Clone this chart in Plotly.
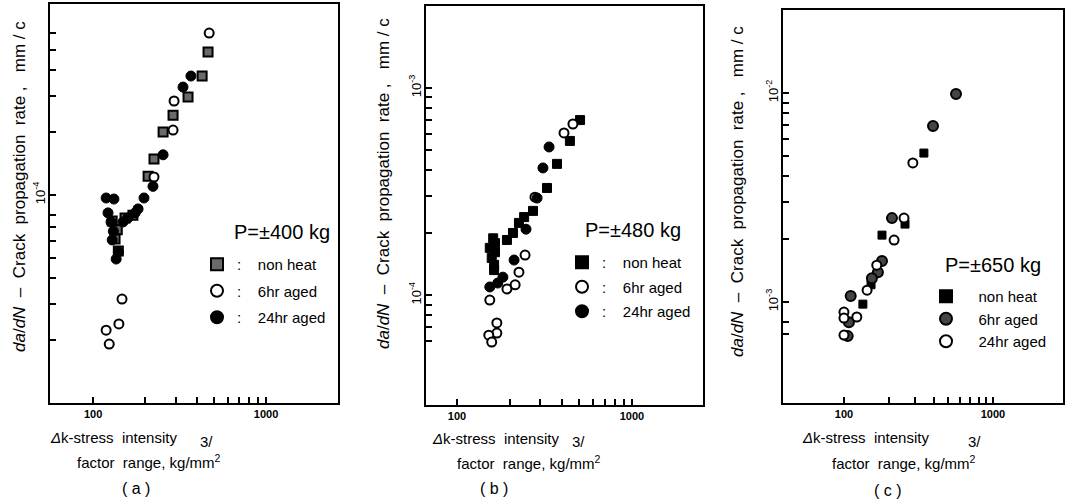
import plotly.graph_objects as go

# ---------------- data ----------------
# panel (a)  P = ±400 kg
a_nonheat_x = [462, 427, 354, 290, 254, 225, 208, 170, 153, 129, 138, 134, 140]
a_nonheat_y = [4.87e-4, 3.73e-4, 2.96e-4, 2.42e-4, 2.01e-4, 1.49e-4, 1.23e-4,
               0.80e-4, 0.775e-4, 0.75e-4, 0.68e-4, 0.614e-4, 0.538e-4]
a_6hr_x = [469, 294, 290, 225, 147, 141, 119, 124]
a_6hr_y = [6.0e-4, 2.83e-4, 2.05e-4, 1.22e-4, 0.316e-4, 0.24e-4, 0.224e-4, 0.192e-4]
a_24hr_x = [368, 331, 254, 222, 197, 182, 175, 159, 149, 119, 132, 122, 127, 131, 129, 140, 136]
a_24hr_y = [3.73e-4, 3.30e-4, 1.56e-4, 1.10e-4, 0.967e-4, 0.857e-4, 0.82e-4, 0.775e-4,
            0.742e-4, 0.967e-4, 0.956e-4, 0.82e-4, 0.742e-4, 0.67e-4, 0.608e-4,
            0.532e-4, 0.492e-4]

# panel (b)  P = ±480 kg
b_nonheat_x = [505, 442, 373, 327, 272, 242, 226, 209, 193, 161, 165, 154, 165, 158, 163, 163]
b_nonheat_y = [0.70e-3, 0.555e-3, 0.43e-3, 0.329e-3, 0.255e-3, 0.238e-3, 0.223e-3,
               0.1995e-3, 0.1845e-3, 0.188e-3, 0.178e-3, 0.169e-3, 0.161e-3,
               0.151e-3, 0.140e-3, 0.132e-3]
b_6hr_x = [460, 409, 279, 245, 226, 215, 193, 154, 169, 169, 152, 158]
b_6hr_y = [0.67e-3, 0.607e-3, 0.297e-3, 0.156e-3, 0.129e-3, 0.112e-3, 0.107e-3,
           0.0946e-3, 0.0733e-3, 0.0655e-3, 0.064e-3, 0.0593e-3]
b_24hr_x = [336, 310, 287, 248, 212, 183, 171, 154]
b_24hr_y = [0.519e-3, 0.411e-3, 0.294e-3, 0.208e-3, 0.1476e-3, 0.122e-3, 0.1143e-3, 0.1094e-3]

# panel (c)  P = ±650 kg
c_nonheat_x = [344, 257, 180, 152, 134]
c_nonheat_y = [5.16e-3, 2.36e-3, 2.09e-3, 1.21e-3, 0.977e-3]
c_6hr_x = [565, 396, 210, 180, 169, 154, 111, 108, 106]
c_6hr_y = [9.9e-3, 6.95e-3, 2.52e-3, 1.57e-3, 1.39e-3, 1.30e-3, 1.07e-3, 0.80e-3, 0.687e-3]
c_24hr_x = [290, 253, 217, 166, 143, 100, 100, 122, 100]
c_24hr_y = [4.63e-3, 2.52e-3, 1.98e-3, 1.50e-3, 1.14e-3, 0.895e-3, 0.838e-3, 0.848e-3, 0.695e-3]

loads = ["P=±400 kg", "P=±480 kg", "P=±650 kg"]
panel_tags = ["( a )", "( b )", "( c )"]
x_tick_vals = [100, 200, 300, 400, 500, 600, 700, 800, 900, 1000]
x_tick_text = ["<b>100</b>", "", "", "", "", "", "", "", "", "<b>1000</b>"]

a_ytick_vals = [2e-5, 3e-5, 4e-5, 5e-5, 6e-5, 7e-5, 8e-5, 1e-4, 2e-4, 3e-4, 4e-4, 5e-4, 6e-4]
a_ytick_text = ["" if v != 1e-4 else "10<sup>-4</sup>" for v in a_ytick_vals]
b_ytick_vals = [6e-5, 7e-5, 8e-5, 9e-5, 1e-4, 2e-4, 3e-4, 4e-4, 5e-4, 6e-4, 7e-4, 8e-4, 9e-4, 1e-3]
b_ytick_text = [{1e-4: "10<sup>-4</sup>", 1e-3: "10<sup>-3</sup>"}.get(v, "") for v in b_ytick_vals]
c_ytick_vals = [7e-4, 8e-4, 1e-3, 2e-3, 3e-3, 4e-3, 5e-3, 6e-3, 7e-3, 8e-3, 9e-3, 1e-2]
c_ytick_text = [{1e-3: "10<sup>-3</sup>", 1e-2: "10<sup>-2</sup>"}.get(v, "") for v in c_ytick_vals]

FONT = "Liberation Sans, Arial, sans-serif"
W, H = 1066, 501

fig = go.Figure()

def px_x(p):
    return p / W

def px_y(p):
    return 1 - p / H

# marker styles
sq_grey = dict(symbol="square", size=9, color="#6a6a6a", line=dict(color="black", width=2))
sq_black = dict(symbol="square", size=9, color="black", line=dict(color="black", width=1))
sq_black_small = dict(symbol="square", size=8, color="black", line=dict(color="black", width=1))
open_c_c = dict(symbol="circle", size=9, color="white", line=dict(color="black", width=2))
fill_c = dict(symbol="circle", size=10, color="black", line=dict(color="black", width=1))
grey_c = dict(symbol="circle", size=10, color="#444444", line=dict(color="black", width=2))

sep = [":\u00a0\u00a0\u00a0\u00a0", ":\u00a0\u00a0\u00a0\u00a0", "\u00a0\u00a0\u00a0"]
panels = [
    [(a_nonheat_x, a_nonheat_y, "non heat", sq_grey),
     (a_6hr_x, a_6hr_y, "6hr aged", open_c_c),
     (a_24hr_x, a_24hr_y, "24hr aged", fill_c)],
    [(b_nonheat_x, b_nonheat_y, "non heat", sq_black),
     (b_6hr_x, b_6hr_y, "6hr aged", open_c_c),
     (b_24hr_x, b_24hr_y, "24hr aged", fill_c)],
    [(c_nonheat_x, c_nonheat_y, "non heat", sq_black_small),
     (c_6hr_x, c_6hr_y, "6hr aged", grey_c),
     (c_24hr_x, c_24hr_y, "24hr aged", open_c_c)],
]

legend_names = ["legend", "legend2", "legend3"]
axis_ids = [("x", "y"), ("x2", "y2"), ("x3", "y3")]

for i, series in enumerate(panels):
    xa, ya = axis_ids[i]
    for j, (xs, ys, name, mk) in enumerate(series):
        fig.add_trace(go.Scatter(
            x=xs, y=ys, mode="markers", name=sep[i] + name, marker=mk,
            xaxis=xa, yaxis=ya, legend=legend_names[i],
            legendgroup="p%d_%d" % (i, j), cliponaxis=False))

# geometry (pixels measured on the reference)
frames = [
    dict(x0=50, x1=338, y0=4, y1=403, xr=[1.751, 3.416], yr=[-5.0, -3.082],
         ytv=a_ytick_vals, ytt=a_ytick_text),
    dict(x0=426, x1=703, y0=6, y1=405, xr=[1.823, 3.406], yr=[-4.531, -2.604],
         ytv=b_ytick_vals, ytt=b_ytick_text),
    dict(x0=783, x1=1063, y0=10, y1=403, xr=[1.591, 3.470], yr=[-3.483, -1.603],
         ytv=c_ytick_vals, ytt=c_ytick_text),
]

layout = dict(
    width=W, height=H, margin=dict(l=0, r=0, t=0, b=0),
    paper_bgcolor="white", plot_bgcolor="white",
    font=dict(family=FONT, color="black", size=14),
    showlegend=True,
)

for i, f in enumerate(frames):
    sfx = "" if i == 0 else str(i + 1)
    layout["xaxis" + sfx] = dict(
        type="log", range=f["xr"], domain=[px_x(f["x0"]), px_x(f["x1"])],
        anchor="y" + sfx, showgrid=False, zeroline=False,
        showline=True, mirror=True, linecolor="black", linewidth=2,
        ticks="inside", ticklen=6, tickwidth=1.5, tickcolor="black",
        tickvals=x_tick_vals, ticktext=x_tick_text,
        tickfont=dict(family=FONT, size=11, color="black"),
    )
    layout["yaxis" + sfx] = dict(
        type="log", range=f["yr"], domain=[px_y(f["y1"]), px_y(f["y0"])],
        anchor="x" + sfx, showgrid=False, zeroline=False,
        showline=True, mirror=True, linecolor="black", linewidth=2,
        ticks="inside", ticklen=6, tickwidth=1.5, tickcolor="black",
        tickvals=f["ytv"], ticktext=f["ytt"], tickangle=-90,
        ticklabelstandoff=-2,
        tickfont=dict(family=FONT, size=13, color="black"),
    )

# legends (x of left edge, y of top edge, gap between entries)
legend_pos = [(197, 248, 4), (562, 246, 2), (926, 280, 0)]
for i, (lx, ly, gap) in enumerate(legend_pos):
    layout[legend_names[i]] = dict(
        x=px_x(lx), y=px_y(ly), xanchor="left", yanchor="top",
        xref="paper", yref="paper",
        bgcolor="rgba(0,0,0,0)", borderwidth=0,
        font=dict(family=FONT, size=15, color="black"),
        itemsizing="constant", tracegroupgap=gap,
    )

fig.update_layout(**layout)

# load labels above the legends
load_pos = [(232, 232), (583, 230), (943, 265)]
for i, (lx, ly) in enumerate(load_pos):
    fig.add_annotation(x=px_x(lx), y=px_y(ly), xref="paper", yref="paper",
                       xanchor="left", yanchor="middle", showarrow=False,
                       text=loads[i], font=dict(family=FONT, size=20, color="black"))

# y-axis titles (rotated)
ytitle = ("<i>da</i>/<i>dN</i>\u00a0\u00a0–\u00a0\u00a0Crack\u00a0\u00a0propagation"
          "\u00a0\u00a0rate ,\u00a0\u00a0\u00a0mm / c")
ytitle_pos = [(19, 187), (384, 184), (737, 192)]
for (tx, ty) in ytitle_pos:
    fig.add_annotation(x=px_x(tx), y=px_y(ty), xref="paper", yref="paper",
                       xanchor="center", yanchor="middle",
                       text=ytitle, textangle=-90, showarrow=False,
                       font=dict(family=FONT, size=17, color="black"))

# x-axis titles
xt = [
    dict(l1=(48, 437), l2=(75, 461), sup=(206, 441), tag=(136, 488)),
    dict(l1=(430, 438), l2=(455, 462), sup=(578, 441), tag=(494, 488)),
    dict(l1=(800, 437), l2=(830, 462), sup=(974, 441), tag=(888, 490)),
]
for i, p in enumerate(xt):
    fig.add_annotation(x=px_x(p["l1"][0]), y=px_y(p["l1"][1]), xref="paper", yref="paper",
                       xanchor="left", yanchor="middle", showarrow=False,
                       text="<i>Δ</i>k-stress\u00a0\u00a0intensity",
                       font=dict(family=FONT, size=15, color="black"))
    fig.add_annotation(x=px_x(p["l2"][0]), y=px_y(p["l2"][1]), xref="paper", yref="paper",
                       xanchor="left", yanchor="middle", showarrow=False,
                       text="factor\u00a0\u00a0range, kg/mm<sup>2</sup>",
                       font=dict(family=FONT, size=15, color="black"))
    fig.add_annotation(x=px_x(p["sup"][0]), y=px_y(p["sup"][1]), xref="paper", yref="paper",
                       xanchor="center", yanchor="middle", showarrow=False,
                       text="3/", font=dict(family=FONT, size=15, color="black"))
    fig.add_annotation(x=px_x(p["tag"][0]), y=px_y(p["tag"][1]), xref="paper", yref="paper",
                       xanchor="center", yanchor="middle", showarrow=False,
                       text=panel_tags[i], font=dict(family=FONT, size=16, color="black"))

fig.write_html("out.html", config={"displayModeBar": False},
               post_script="document.body.style.margin='0';")
